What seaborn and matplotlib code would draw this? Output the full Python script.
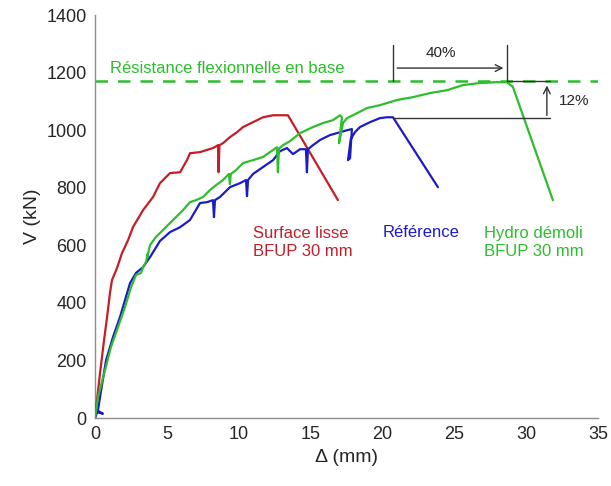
import numpy as np
import pandas as pd
import matplotlib
matplotlib.use("Agg")
import matplotlib.pyplot as plt
import seaborn as sns

# ---- data ----
lisse_x = [0, 0.14, 0.35, 0.63, 0.84, 1.04, 1.18, 1.53, 1.88, 2.30, 2.64, 3.34, 4.04, 4.52, 5.22, 5.92,
           6.40, 6.61, 7.31, 8.21, 8.56, 8.60, 8.66, 8.91, 9.39, 9.88, 10.30, 11.0, 11.69, 12.39, 13.43, 16.91]
lisse_v = [0, 63, 156, 271, 351, 434, 479, 521, 573, 618, 663, 722, 768, 816, 851, 854,
           896, 920, 924, 938, 948, 854, 948, 955, 976, 993, 1011, 1028, 1045, 1052, 1052, 757]

ref_x = [0, 0.15, 0.55, 0.2, 0.35, 0.77, 1.25, 1.74, 2.09, 2.44, 2.85, 3.34, 3.83, 4.52, 5.22, 5.92, 6.61,
         7.31, 7.79, 8.21, 8.28, 8.35, 8.70, 9.39, 10.09, 10.51, 10.58, 10.65, 11.0, 11.69, 12.39,
         12.87, 13.36, 13.78, 14.27, 14.68, 14.75, 14.82, 15.17, 15.66, 16.35, 17.05, 17.54, 17.88,
         17.75, 17.61, 17.80, 18.09, 18.44, 19.14, 19.83, 20.32, 20.74, 23.87]
ref_v = [0, 20, 15, 25, 73, 201, 281, 351, 410, 469, 504, 524, 559, 615, 646, 663, 688,
         747, 750, 757, 698, 757, 768, 802, 816, 827, 771, 827, 848, 872, 896,
         927, 938, 917, 934, 934, 854, 934, 948, 966, 983, 993, 1000, 1004,
         903, 896, 969, 993, 1011, 1028, 1042, 1045, 1045, 802]

hydro_x = [0, 0.21, 0.70, 1.11, 1.60, 2.09, 2.51, 2.85, 3.20, 3.34, 3.55, 3.69, 3.62, 3.83, 4.24, 4.73,
           5.43, 6.12, 6.61, 7.03, 7.52, 8.0, 8.42, 8.91, 9.32, 9.39, 9.45, 9.81, 10.30, 11.0, 11.69,
           12.18, 12.67, 12.73, 12.80, 13.08, 13.57, 14.27, 15.17, 15.87, 16.56, 17.05, 17.19, 16.98,
           17.26, 17.54, 18.23, 18.93, 19.83, 21.02, 22.13, 23.31, 24.50, 25.61, 26.79, 27.97, 28.67,
           29.09, 31.87]
hydro_v = [0, 73, 167, 247, 316, 386, 455, 497, 504, 524, 542, 573, 556, 601, 629, 653,
           688, 722, 750, 757, 768, 792, 809, 827, 848, 813, 848, 861, 886, 896, 907,
           924, 941, 854, 936, 948, 962, 990, 1011, 1025, 1035, 1052, 1045, 955,
           1025, 1042, 1059, 1077, 1087, 1105, 1115, 1129, 1139, 1157, 1164, 1167, 1167,
           1150, 757]

base_resistance = 1170
x_ticks = [0, 5, 10, 15, 20, 25, 30, 35]
y_ticks = [0, 200, 400, 600, 800, 1000, 1200, 1400]

RED, BLUE, GREEN = "#c41e28", "#1c1cc4", "#2dbd2d"
GREY = "#262626"

sns.set_theme(style="white")
plt.rcParams["font.family"] = ["Liberation Sans", "DejaVu Sans"]

df = pd.concat([
    pd.DataFrame({"x": lisse_x, "v": lisse_v, "s": "lisse"}),
    pd.DataFrame({"x": ref_x, "v": ref_v, "s": "ref"}),
    pd.DataFrame({"x": hydro_x, "v": hydro_v, "s": "hydro"}),
])

fig = plt.figure(figsize=(6.11, 4.86), dpi=100)
ax = fig.add_axes([0.1555, 0.1399, 0.823, 0.829])

ax.axhline(base_resistance, color=GREEN, lw=1.8, ls=(0, (5, 4)), zorder=1)

sns.lineplot(data=df, x="x", y="v", hue="s", sort=False, estimator=None,
             palette={"lisse": RED, "ref": BLUE, "hydro": GREEN}, lw=1.6, legend=False, ax=ax, zorder=3)

ax.set_xlim(0, 35)
ax.set_ylim(0, 1400)
ax.set_xticks(x_ticks)
ax.set_yticks(y_ticks)
ax.set_xlabel("Δ (mm)", fontsize=14, color=GREY)
ax.set_ylabel("V (kN)", fontsize=14, color=GREY)
for s in ["top", "right"]:
    ax.spines[s].set_visible(False)
for s in ["left", "bottom"]:
    ax.spines[s].set_color("#8c8c8c")
    ax.spines[s].set_linewidth(1.0)
ax.tick_params(direction="in", length=4, color="#8c8c8c", labelsize=13, labelcolor=GREY, pad=6)

# annotations
peak_ref_x, peak_ref_v = 20.74, 1042
peak_hy_x = 28.67
ax.plot([peak_ref_x, peak_ref_x], [base_resistance, 1296], color="#333333", lw=1.0, zorder=4)
ax.plot([peak_hy_x, peak_hy_x], [base_resistance, 1296], color="#333333", lw=1.0, zorder=4)
ax.annotate("", xy=(peak_hy_x - 0.05, 1216), xytext=(peak_ref_x + 0.1, 1216),
            arrowprops=dict(arrowstyle="->", color="#333333", lw=1.0))
ax.text(24.1, 1268, "40%", fontsize=11, color=GREY, ha="center", va="center")

ax.plot([peak_ref_x, 31.7], [peak_ref_v, peak_ref_v], color="#333333", lw=1.0, zorder=4)
ax.plot([peak_hy_x, 31.7], [base_resistance, base_resistance], color="#333333", lw=1.0, zorder=4)
ax.annotate("", xy=(31.45, base_resistance - 5), xytext=(31.45, peak_ref_v),
            arrowprops=dict(arrowstyle="->", color="#333333", lw=1.0))
ax.text(32.3, 1101, "12%", fontsize=11, color=GREY, ha="left", va="center")

ax.text(1.05, 1216, "Résistance flexionnelle en base", fontsize=12, color=GREEN, ha="left", va="center")
ax.text(11.0, 611, "Surface lisse\nBFUP 30 mm", fontsize=12, color=RED, ha="left", va="center",
        linespacing=1.25)
ax.text(20.0, 646, "Référence", fontsize=12, color=BLUE, ha="left", va="center")
ax.text(27.1, 611, "Hydro démoli\nBFUP 30 mm", fontsize=12, color=GREEN, ha="left", va="center",
        linespacing=1.25)

fig.savefig("out.png", dpi=100)
